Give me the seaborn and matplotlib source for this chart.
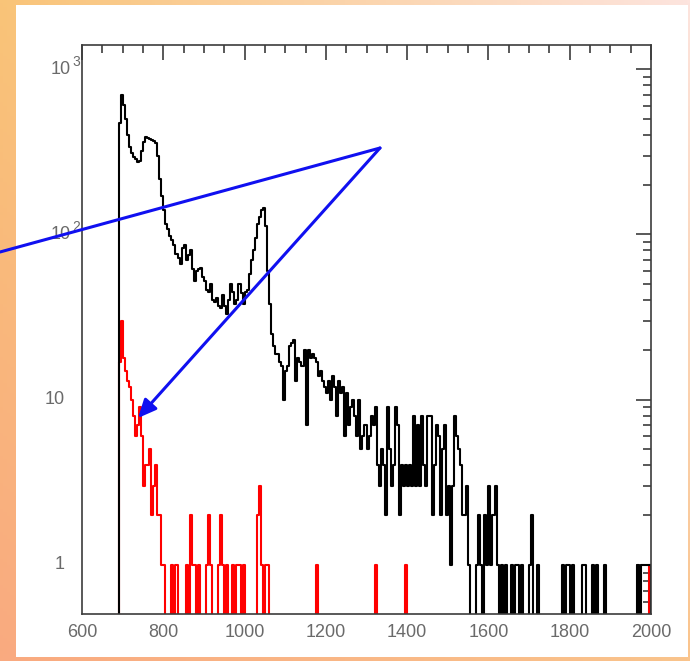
import numpy as np
import pandas as pd
import matplotlib
matplotlib.use("Agg")
import matplotlib.pyplot as plt
import matplotlib.transforms as mtransforms
from matplotlib.patches import FancyArrowPatch, Rectangle, ArrowStyle
from matplotlib.lines import Line2D
from matplotlib.ticker import MultipleLocator, LogLocator, NullFormatter
import seaborn as sns

# ---------------------------------------------------------------------------
# Histogram data: counts per 5-unit bin, first bin starts at 690
# ---------------------------------------------------------------------------
BIN_WIDTH = 5
FIRST_BIN = 690

black_counts = [
    470, 700, 610, 500, 400, 340, 310, 295, 285, 275,   # 690-735
    280, 320, 360, 390, 385, 380, 375, 370, 355, 300,   # 740-785
    215, 170, 140, 115, 108, 98, 92, 86, 76, 72,        # 790-835
    66, 83, 86, 70, 75, 80, 62, 52, 60, 62,             # 840-885
    63, 55, 52, 46, 45, 50, 40, 39, 41, 37,             # 890-935
    36, 43, 37, 33, 40, 50, 45, 38, 40, 50,             # 940-985
    44, 38, 45, 46, 58, 70, 80, 95, 115, 128,           # 990-1035
    140, 145, 112, 60, 38, 25, 21, 19, 19, 17,          # 1040-1085
    16, 10, 15, 16, 21, 22, 23, 13, 18, 17,             # 1090-1135
    16, 20, 7, 20, 18, 19, 18, 17, 14, 15,              # 1140-1185
    13, 12, 11, 13, 10, 14, 12, 8, 13, 11,              # 1190-1235
    12, 6, 11, 7, 9, 10, 8, 6, 10, 5,                   # 1240-1285
    6, 7, 5, 6, 8, 7, 9, 4, 3, 5,                       # 1290-1335
    4, 2, 9, 5, 3, 4, 9, 7, 2, 4,                       # 1340-1385
    3, 4, 3, 4, 3, 8, 3, 7, 3, 8,                       # 1390-1435
    4, 3, 8, 8, 2, 4, 7, 6, 2, 5,                       # 1440-1485
    7, 2, 3, 1, 3, 8, 6, 5, 4, 2,                       # 1490-1535
    2, 3, 1, 0, 0, 0, 1, 2, 1, 0,                       # 1540-1585
    2, 1, 3, 1, 2, 3, 1, 0, 1, 0,                       # 1590-1635
    1, 0, 0, 1, 0, 1, 1, 0, 1, 0,                       # 1640-1685
    0, 0, 1, 2, 0, 0, 1, 0, 0, 0,                       # 1690-1735
    0, 0, 0, 0, 0, 0, 0, 0, 1, 0,                       # 1740-1785
    1, 1, 0, 1, 0, 0, 0, 0, 1, 1,                       # 1790-1835
    0, 0, 0, 1, 0, 1, 0, 0, 0, 1,                       # 1840-1885
    0, 0, 0, 0, 0, 0, 0, 0, 0, 0,                       # 1890-1935
    0, 0, 0, 0, 0, 1, 0, 1, 1, 1,                       # 1940-1985
    1, 1,                                               # 1990-1995
]

red_counts = [
    17, 30, 18, 15, 13, 12, 10, 8, 6, 7,                # 690-735
    9, 6, 3, 4, 4, 5, 2, 3, 4, 2,                       # 740-785
    2, 1, 1, 0, 0, 0, 1, 0, 1, 0,                       # 790-835
    0, 0, 0, 1, 0, 2, 1, 1, 0, 1,                       # 840-885
    0, 0, 0, 1, 2, 1, 0, 0, 0, 1,                       # 890-935
    2, 1, 0, 1, 0, 0, 1, 0, 1, 1,                       # 940-985
    0, 1, 0, 0, 0, 0, 0, 0, 2, 3,                       # 990-1035
    1, 0, 1, 1, 0, 0, 0, 0, 0, 0,                       # 1040-1085
    0, 0, 0, 0, 0, 0, 0, 0, 0, 0,                       # 1090-1135
    0, 0, 0, 0, 0, 0, 0, 1, 0, 0,                       # 1140-1185
    0, 0, 0, 0, 0, 0, 0, 0, 0, 0,                       # 1190-1235
    0, 0, 0, 0, 0, 0, 0, 0, 0, 0,                       # 1240-1285
    0, 0, 0, 0, 0, 0, 1, 0, 0, 0,                       # 1290-1335
    0, 0, 0, 0, 0, 0, 0, 0, 0, 0,                       # 1340-1385
    0, 1, 0, 0, 0, 0, 0, 0, 0, 0,                       # 1390-1435
    0, 0, 0, 0, 0, 0, 0, 0, 0, 0,                       # 1440-1485
    0, 0, 0, 0, 0, 0, 0, 0, 0, 0,                       # 1490-1535
    0, 0, 0, 0, 0, 0, 0, 0, 0, 0,                       # 1540-1585
    0, 0, 0, 0, 0, 0, 0, 0, 0, 0,                       # 1590-1635
    0, 0, 0, 0, 0, 0, 0, 0, 0, 0,                       # 1640-1685
    0, 0, 0, 0, 0, 0, 0, 0, 0, 0,                       # 1690-1735
    0, 0, 0, 0, 0, 0, 0, 0, 0, 0,                       # 1740-1785
    0, 0, 0, 0, 0, 0, 0, 0, 0, 0,                       # 1790-1835
    0, 0, 0, 0, 0, 0, 0, 0, 0, 0,                       # 1840-1885
    0, 0, 0, 0, 0, 0, 0, 0, 0, 0,                       # 1890-1935
    0, 0, 0, 0, 0, 0, 0, 0, 0, 0,                       # 1940-1985
    0, 1,                                               # 1990-1995
]

x_ticks = [600, 800, 1000, 1200, 1400, 1600, 1800, 2000]
x_tick_labels = [str(v) for v in x_ticks]
y_plain_ticks = [1, 10]
y_plain_labels = ["1", "10"]
y_power_ticks = [100, 1000]
y_power_exponents = ["2", "3"]

X_RANGE = (600, 2000)
Y_RANGE = (0.505, 1400)

# ---------------------------------------------------------------------------
# Figure setup
# ---------------------------------------------------------------------------
sns.set_style("white")
plt.rcParams["font.family"] = ["Liberation Sans", "DejaVu Sans"]

W, H = 690, 661
fig = plt.figure(figsize=(W / 100, H / 100), dpi=100)


def fx(px):
    return px / W


def fy(py):
    return 1 - py / H


# warm gradient backdrop
bg = fig.add_axes([0, 0, 1, 1], zorder=-10)
tl = np.array([249, 196, 120]) / 255
tr = np.array([253, 228, 222]) / 255
bl = np.array([249, 170, 128]) / 255
br = np.array([250, 196, 140]) / 255
u = np.linspace(0, 1, 200)[None, :, None]
v = np.linspace(0, 1, 200)[:, None, None]
grad = (1 - v) * ((1 - u) * tl + u * tr) + v * ((1 - u) * bl + u * br)
bg.imshow(grad, extent=[0, 1, 0, 1], aspect="auto", origin="upper")
bg.set_axis_off()

# white slide panel
fig.add_artist(Rectangle((fx(16), fy(657)), fx(688) - fx(16), fy(5) - fy(657),
                         transform=fig.transFigure, facecolor="white",
                         edgecolor="none", zorder=-5))

# plot axes
ax = fig.add_axes([fx(82), fy(614), fx(651) - fx(82), fy(45) - fy(614)])
ax.patch.set_alpha(0)


def hist_frame(counts):
    vals = np.concatenate([[0], counts, [0]]).astype(float)
    start = FIRST_BIN - BIN_WIDTH
    edges = start + BIN_WIDTH * np.arange(len(vals) + 1)
    centers = edges[:-1] + BIN_WIDTH / 2
    return pd.DataFrame({"energy": centers, "count": vals}), [float(e) for e in edges]


red_df, red_edges = hist_frame(red_counts)
sns.histplot(data=red_df, x="energy", weights="count", bins=red_edges,
             element="step", fill=False, color="#ff0000", linewidth=1.5, ax=ax)
black_df, black_edges = hist_frame(black_counts)
sns.histplot(data=black_df, x="energy", weights="count", bins=black_edges,
             element="step", fill=False, color="black", linewidth=1.5, ax=ax)

ax.set_yscale("log")
ax.set_xlim(*X_RANGE)
ax.set_ylim(*Y_RANGE)
ax.set_xlabel("")
ax.set_ylabel("")

# frame and ticks
axis_color = "#3c3c3c"
label_color = "#6a6a6a"
for s in ax.spines.values():
    s.set_visible(True)
    s.set_color(axis_color)
    s.set_linewidth(1.2)

ax.set_xticks(x_ticks)
ax.set_xticklabels(x_tick_labels)
ax.xaxis.set_minor_locator(MultipleLocator(50))
ax.yaxis.set_major_locator(LogLocator(base=10, numticks=10))
ax.yaxis.set_minor_locator(LogLocator(base=10, subs=np.arange(2, 10), numticks=20))
ax.yaxis.set_minor_formatter(NullFormatter())
ax.tick_params(which="both", direction="in", top=True, right=True,
               color=axis_color, width=1.2)
ax.tick_params(which="major", length=11)
ax.tick_params(which="minor", length=6)
ax.tick_params(axis="x", which="major", labelsize=13, labelcolor=label_color, pad=7)
ax.tick_params(axis="y", which="both", labelleft=False)

# y labels in the 10^n style
ytrans = ax.get_yaxis_transform()


def axfrac(px):
    return (px - 82) / (651 - 82)


for val, lab in zip(y_plain_ticks, y_plain_labels):
    ax.text(axfrac(65), val, lab, transform=ytrans, ha="right", va="center",
            fontsize=13, color=label_color)
for val, ex in zip(y_power_ticks, y_power_exponents):
    ax.text(axfrac(71), val, "10", transform=ytrans, ha="right", va="center",
            fontsize=13, color=label_color)
    sup = mtransforms.offset_copy(ytrans, fig=fig, y=7, units="dots")
    ax.text(axfrac(72), val, ex, transform=sup, ha="left", va="center",
            fontsize=10, color=label_color)

# blue pointer lines
blue = "#1010f0"
fig.add_artist(Line2D([fx(0), fx(380)], [fy(252), fy(148)],
                      transform=fig.transFigure, color=blue, linewidth=2.2,
                      solid_capstyle="round", zorder=5))
arrow = FancyArrowPatch((fx(380), fy(148)), (fx(138), fy(418)),
                        transform=fig.transFigure,
                        arrowstyle=ArrowStyle("-|>", head_length=11, head_width=5),
                        mutation_scale=1, shrinkA=0, shrinkB=0,
                        color=blue, linewidth=2.2, zorder=5)
fig.add_artist(arrow)

fig.savefig("out.png", dpi=100)
